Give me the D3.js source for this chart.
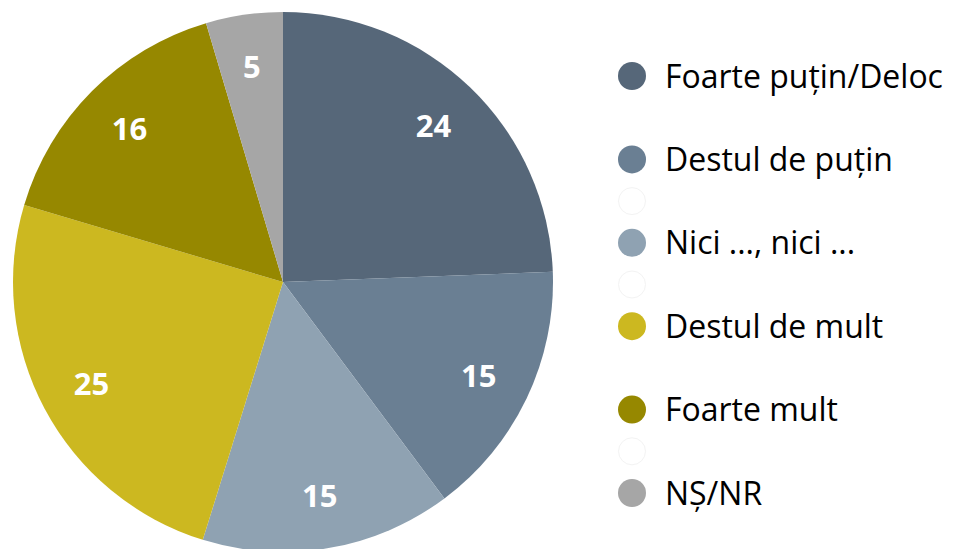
<!DOCTYPE html>
<html><head><meta charset="utf-8">
<script src="https://cdn.jsdelivr.net/npm/d3@7"></script>
<style>html,body{margin:0;padding:0;background:#fff;overflow:hidden}</style>
</head><body>
<svg id="c" width="957" height="549"></svg>
<script>
const categories = ["Foarte puțin/Deloc","Destul de puțin","Nici ..., nici ...","Destul de mult","Foarte mult","NȘ/NR"];
const values = [24.4, 15.4, 15.0, 24.8, 15.8, 4.6];
const valueLabels = ["24","15","15","25","16","5"];
const colors = ["#566779","#6a7f93","#8fa2b2","#ccb820","#968800","#a6a6a6"];
// legend slots: index into categories, or null for blank placeholder entries
const legendSlots = [0, null, 1, "blank", 2, "blank", 3, null, 4, "blank", 5];

const svg = d3.select("#c");
const cx = 283, cy = 282, R = 270;
const pie = d3.pie().sort(null).value(d => d)(values);
const arc = d3.arc().innerRadius(0).outerRadius(R);
const labelArc = d3.arc().innerRadius(217).outerRadius(217);
const g = svg.append("g").attr("transform", `translate(${cx},${cy})`);
g.selectAll("path").data(pie).enter().append("path")
  .attr("d", arc).attr("fill", (d,i) => colors[i]);
g.selectAll("text").data(pie).enter().append("text")
  .attr("transform", d => `translate(${labelArc.centroid(d)})`)
  .attr("text-anchor","middle").attr("dy","0.36em")
  .attr("font-family","Open Sans").attr("font-weight","bold").attr("font-size",31)
  .attr("fill","#fff").text((d,i) => valueLabels[i]);

const ly = d3.scaleLinear().domain([0, legendSlots.length-1]).range([76, 493]);
const lg = svg.append("g");
legendSlots.forEach((s, k) => {
  if (s === null) return;
  const y = ly(k);
  if (s === "blank") {
    lg.append("circle").attr("cx",632).attr("cy",y).attr("r",13.5)
      .attr("fill","#fff").attr("stroke","#f3f3f3").attr("stroke-width",1);
    return;
  }
  lg.append("circle").attr("cx",632).attr("cy",y).attr("r",14).attr("fill",colors[s]);
  lg.append("text").attr("class","lt").attr("x",665).attr("y",y).attr("dy","0.36em")
    .attr("font-family","Open Sans").attr("font-size",30).attr("fill","#000")
    .text(categories[s]);
});
// fit font so longest label spans ~278px
const w = d3.max(lg.selectAll(".lt").nodes(), n => n.getComputedTextLength());
const fs = 30 * 278 / w;
lg.selectAll(".lt").attr("font-size", fs);
</script>
</body></html>
